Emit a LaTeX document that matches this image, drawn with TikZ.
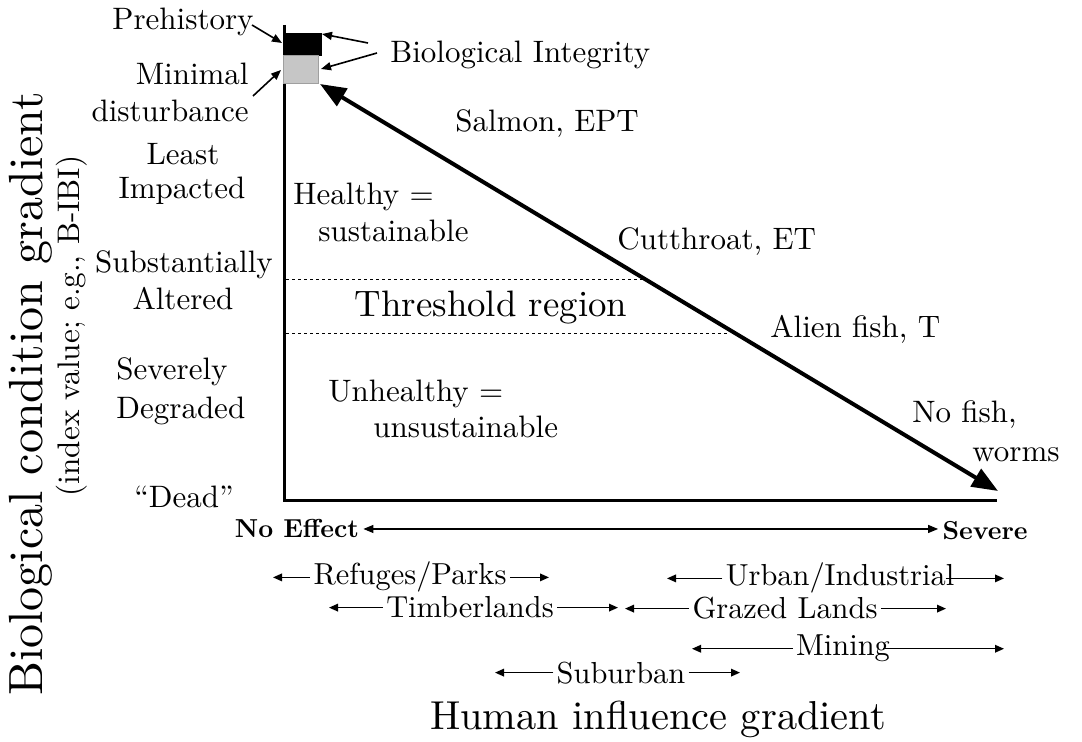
\documentclass[tikz,border=0pt]{standalone}
\usepackage{fontspec}
\setmainfont{lmroman10-regular.otf}[BoldFont=lmroman10-bold.otf, ItalicFont=lmroman10-italic.otf]
\usetikzlibrary{arrows.meta}
\begin{document}
\begin{tikzpicture}[x=0.5pt,y=-0.5pt,
  lab/.style={font=\fontsize{15.5}{17}\selectfont, inner sep=0pt},
  rng/.style={font=\fontsize{15.2}{17}\selectfont, inner sep=1.5pt, anchor=base},
  ptr/.style={line width=0.8pt, -{Triangle[length=5pt,width=4pt]}},
  rarr/.style={line width=0.7pt, -{Triangle[length=4.5pt,width=3.8pt]}},
  axis/.style={line width=1.5pt},
  bigarr/.style={line width=2pt, {Triangle[length=13pt,width=10pt]}-{Triangle[length=13pt,width=10pt]}},
  thr/.style={line width=0.4pt, dash pattern=on 1.5pt off 1.5pt}]
\path[use as bounding box] (0,0) rectangle (1082,742);

% axes
\coordinate (top) at (284,25);
\coordinate (orig) at (284,501);
\coordinate (xend) at (997,501);
\draw[axis] (top) -- (orig) -- (xend);

% boxes
\node[fill=black, draw=black, minimum width=19pt, minimum height=11pt, inner sep=0pt] (bb) at (302,44) {};
\node[fill=gray!45, draw=gray!75, minimum width=17.5pt, minimum height=14pt, inner sep=0pt] (gb) at (300.5,69) {};

% big arrow
\coordinate (tipA) at (320,84);
\coordinate (tipB) at (998,491);
\draw[bigarr] (tipA) -- (tipB);

% threshold lines
\coordinate (t1a) at (286,279); \coordinate (t1b) at (642,279);
\coordinate (t2a) at (286,333); \coordinate (t2b) at (727,333);
\draw[thr] (t1a) -- (t1b);
\draw[thr] (t2a) -- (t2b);

% left labels
\node[lab, anchor=base] (prehist) at (183,30) {Prehistory};
\coordinate (prehistT) at (252,25);
\coordinate (prehistH) at (282,43);
\draw[ptr] (prehistT) -- (prehistH);
\node[lab, anchor=base east] (min1) at (249,85) {Minimal};
\node[lab, anchor=base east] (min2) at (249,122) {disturbance};
\coordinate (minT) at (253,96);
\coordinate (minH) at (281,70);
\draw[ptr] (minT) -- (minH);
\node[lab, anchor=base] (least1) at (183,165) {Least};
\node[lab, anchor=base] (least2) at (182,199) {Impacted};
\node[lab, anchor=base] (subst1) at (184,273) {Substantially};
\node[lab, anchor=base] (subst2) at (183,310) {Altered};
\node[lab, anchor=base west] (sev1) at (116,380) {Severely};
\node[lab, anchor=base west] (sev2) at (116,419) {Degraded};
\node[lab, anchor=base] (dead) at (184,508) {“Dead”};

% biological integrity
\node[lab, anchor=base west] (bioint) at (390,63) {Biological Integrity};
\coordinate (biT1) at (368,43);
\coordinate (biH1) at (322,34);
\coordinate (biT2) at (377,53);
\coordinate (biH2) at (321,69);
\draw[ptr] (biT1) -- (biH1);
\draw[ptr] (biT2) -- (biH2);

% axis titles
\node[font=\fontsize{24}{26}\selectfont, rotate=90, inner sep=0pt] (ytitle) at (31,394) {Biological condition gradient};
\node[font=\fontsize{15.6}{17}\selectfont, rotate=90, inner sep=0pt] (ysub) at (72,326) {(index value; e.g., B-IBI)};
\node[font=\fontsize{20.2}{22}\selectfont, inner sep=0pt, anchor=base] (xtitle) at (658,730) {Human influence gradient};

% inner labels
\node[lab, anchor=base west] (healthy1) at (293,205) {Healthy =};
\node[lab, anchor=base west] (healthy2) at (318,242) {sustainable};
\node[font=\fontsize{18.4}{20}\selectfont, inner sep=0pt, anchor=base] (thresh) at (491,317) {Threshold region};
\node[lab, anchor=base west] (unh1) at (328,402) {Unhealthy =};
\node[lab, anchor=base west] (unh2) at (373,438) {unsustainable};

% species labels
\node[lab, anchor=base west] (salmon) at (455,132) {Salmon, EPT};
\node[lab, anchor=base west] (cutt) at (617,250) {Cutthroat, ET};
\node[lab, anchor=base west] (alien) at (770,338) {Alien fish, T};
\node[lab, anchor=base west] (nofish) at (912,423) {No fish,};
\node[lab, anchor=base west] (worms) at (972,462) {worms};

% x-axis scale
\node[font=\fontsize{13}{15}\selectfont\bfseries, inner sep=2pt, anchor=base] (noeff) at (297,538) {No Effect};
\node[font=\fontsize{13}{15}\selectfont\bfseries, inner sep=2pt, anchor=base] (severe) at (985,540) {Severe};
\draw[line width=0.6pt, {Triangle[length=5pt,width=4pt]}-{Triangle[length=5pt,width=4pt]}] (noeff.east) -- (severe.west |- noeff.east);

% land use ranges
\node[rng] (refuges) at (410,585) {Refuges/Parks};
\coordinate (refL) at (273,577); \coordinate (refR) at (549,577);
\draw[rarr] (refuges.west) -- (refuges.west -| refL);
\draw[rarr] (refuges.east) -- (refuges.east -| refR);

\node[rng] (urban) at (840,586) {Urban/Industrial};
\coordinate (urbL) at (667,578); \coordinate (urbR) at (1004,578);
\draw[rarr] (urban.west) -- (urban.west -| urbL);
\draw[rarr] ([xshift=-6pt]urban.east) -- (urban.east -| urbR);

\node[rng] (timber) at (470,618) {Timberlands};
\coordinate (timL) at (329,610); \coordinate (timR) at (618,610);
\draw[rarr] (timber.west) -- (timber.west -| timL);
\draw[rarr] (timber.east) -- (timber.east -| timR);

\node[rng] (grazed) at (785,619) {Grazed Lands};
\coordinate (graL) at (625,611); \coordinate (graR) at (946,611);
\draw[rarr] (grazed.west) -- (grazed.west -| graL);
\draw[rarr] (grazed.east) -- (grazed.east -| graR);

\node[rng] (mining) at (843,656) {Mining};
\coordinate (minL) at (692,648); \coordinate (minR) at (1004,648);
\draw[rarr] (mining.west) -- (mining.west -| minL);
\draw[rarr] ([xshift=-5pt]mining.east) -- (mining.east -| minR);

\node[rng] (suburb) at (621,683) {Suburban};
\coordinate (subL) at (495,676); \coordinate (subR) at (740,676);
\draw[rarr] (suburb.west) -- (suburb.west -| subL);
\draw[rarr] (suburb.east) -- (suburb.east -| subR);
\end{tikzpicture}
\end{document}
